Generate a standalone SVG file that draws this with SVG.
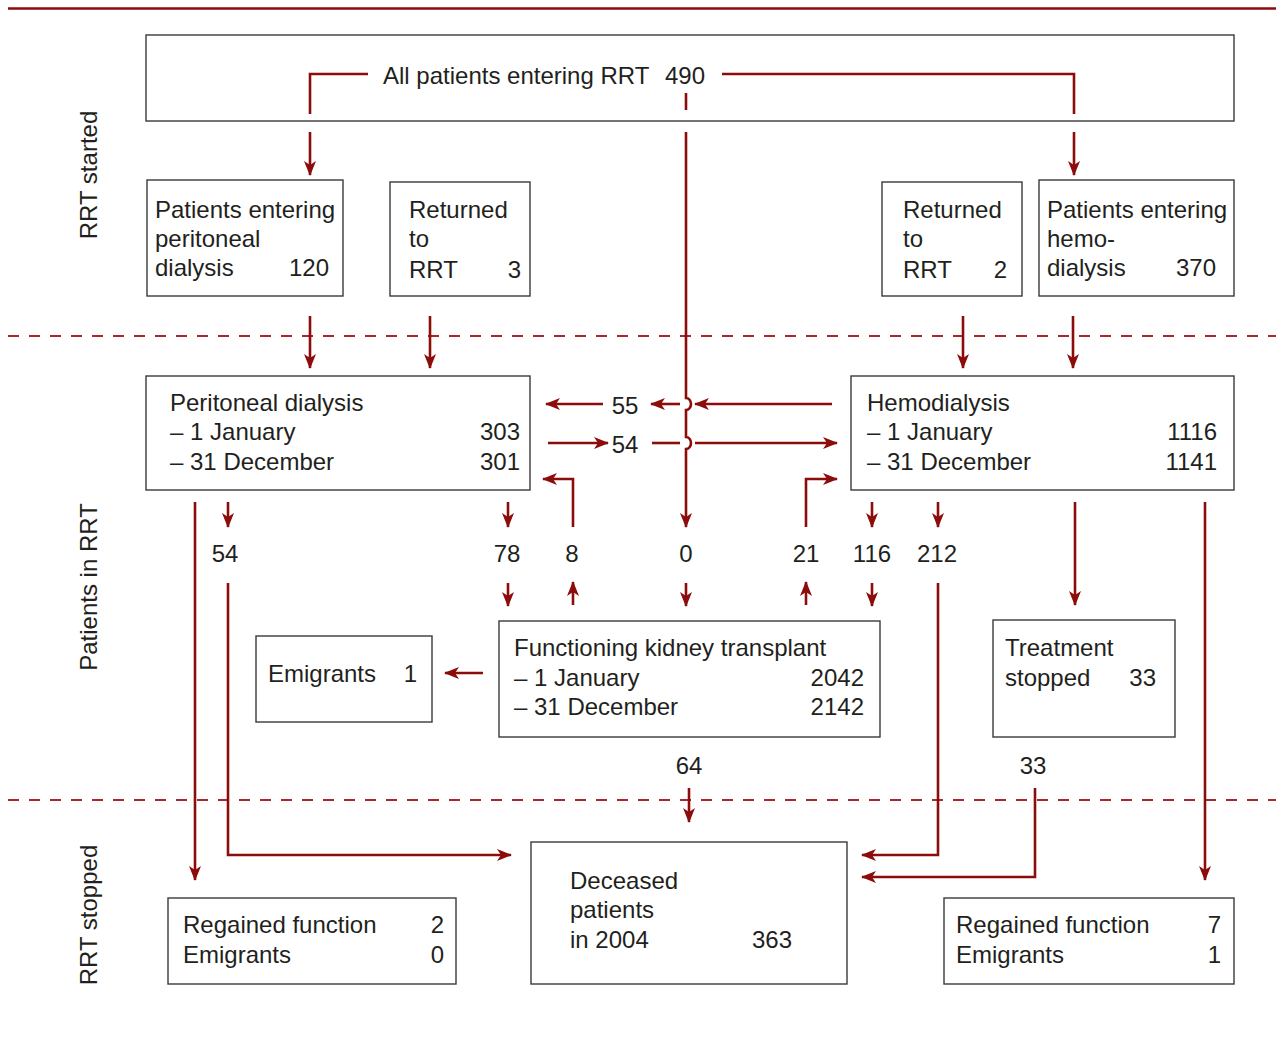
<svg xmlns="http://www.w3.org/2000/svg" width="1276" height="1037" viewBox="0 0 1276 1037">
<style>
text{font-family:"Liberation Sans",Arial,sans-serif;font-size:24px;fill:#231f20}
.e{text-anchor:end}.m{text-anchor:middle}
.box{fill:#fff;stroke:#3a3a3a;stroke-width:1.4}
.c{fill:none;stroke:#8c0b0b;stroke-width:2.6}
.a{marker-end:url(#ah)}
.d{fill:none;stroke:#a8282d;stroke-width:1.8;stroke-dasharray:11 10}
</style>
<defs>
<marker id="ah" markerUnits="userSpaceOnUse" markerWidth="15" markerHeight="12" viewBox="0 0 15 12" refX="14" refY="6" orient="auto">
<path d="M0,0 L15,6 L0,12 L4,6 z" fill="#8c0b0b"/>
</marker>
</defs>
<rect width="1276" height="1037" fill="#fff"/>
<line x1="8" y1="8.5" x2="1276" y2="8.5" stroke="#8c0b0b" stroke-width="2.5"/>
<line class="d" x1="8" y1="336" x2="1276" y2="336"/>
<line class="d" x1="8" y1="800" x2="1276" y2="800"/>

<g id="labels">
<text class="m" transform="translate(97,175) rotate(-90)">RRT started</text>
<text class="m" transform="translate(97,587) rotate(-90)">Patients in RRT</text>
<text class="m" transform="translate(97,915) rotate(-90)">RRT stopped</text>
</g>

<g id="all">
<rect class="box" x="146" y="35" width="1088" height="86"/>
<text x="383" y="84">All patients entering RRT</text>
<text class="e" x="705" y="84">490</text>
</g>
<g id="pd-enter">
<rect class="box" x="147" y="180" width="196" height="116"/>
<text x="155" y="218">Patients entering</text>
<text x="155" y="247">peritoneal</text>
<text x="155" y="276">dialysis</text>
<text class="e" x="329" y="276">120</text>
</g>
<g id="ret-pd">
<rect class="box" x="390" y="182" width="140" height="114"/>
<text x="409" y="218">Returned</text>
<text x="409" y="247">to</text>
<text x="409" y="278">RRT</text>
<text class="e" x="521" y="278">3</text>
</g>
<g id="ret-hd">
<rect class="box" x="882" y="182" width="140" height="114"/>
<text x="903" y="218">Returned</text>
<text x="903" y="247">to</text>
<text x="903" y="278">RRT</text>
<text class="e" x="1007" y="278">2</text>
</g>
<g id="hd-enter">
<rect class="box" x="1039" y="180" width="195" height="116"/>
<text x="1047" y="218">Patients entering</text>
<text x="1047" y="247">hemo-</text>
<text x="1047" y="276">dialysis</text>
<text class="e" x="1216" y="276">370</text>
</g>
<g id="pd">
<rect class="box" x="146" y="376" width="384" height="114"/>
<text x="170" y="411">Peritoneal dialysis</text>
<text x="170" y="440">– 1 January</text>
<text class="e" x="520" y="440">303</text>
<text x="170" y="470">– 31 December</text>
<text class="e" x="520" y="470">301</text>
</g>
<g id="hd">
<rect class="box" x="851" y="376" width="383" height="114"/>
<text x="867" y="411">Hemodialysis</text>
<text x="867" y="440">– 1 January</text>
<text class="e" x="1217" y="440">1116</text>
<text x="867" y="470">– 31 December</text>
<text class="e" x="1217" y="470">1141</text>
</g>
<g id="emig">
<rect class="box" x="256" y="636" width="176" height="86"/>
<text x="268" y="682">Emigrants</text>
<text class="e" x="417" y="682">1</text>
</g>
<g id="tx">
<rect class="box" x="499" y="621" width="381" height="116"/>
<text x="514" y="656">Functioning kidney transplant</text>
<text x="514" y="686">– 1 January</text>
<text class="e" x="864" y="686">2042</text>
<text x="514" y="715">– 31 December</text>
<text class="e" x="864" y="715">2142</text>
</g>
<g id="stop">
<rect class="box" x="993" y="620" width="182" height="117"/>
<text x="1005" y="656">Treatment</text>
<text x="1005" y="686">stopped</text>
<text class="e" x="1156" y="686">33</text>
</g>
<g id="dec">
<rect class="box" x="531" y="842" width="316" height="142"/>
<text x="570" y="889">Deceased</text>
<text x="570" y="918">patients</text>
<text x="570" y="948">in 2004</text>
<text class="e" x="792" y="948">363</text>
</g>
<g id="reg-l">
<rect class="box" x="168" y="898" width="288" height="86"/>
<text x="183" y="933">Regained function</text>
<text class="e" x="444" y="933">2</text>
<text x="183" y="963">Emigrants</text>
<text class="e" x="444" y="963">0</text>
</g>
<g id="reg-r">
<rect class="box" x="944" y="898" width="290" height="86"/>
<text x="956" y="933">Regained function</text>
<text class="e" x="1221" y="933">7</text>
<text x="956" y="963">Emigrants</text>
<text class="e" x="1221" y="963">1</text>
</g>

<g id="connectors">
<path class="c" d="M368,74 H310 V114"/>
<path class="c a" d="M310,132 V175"/>
<path class="c" d="M722,74 H1074 V114"/>
<path class="c a" d="M1074,132 V175"/>
<path class="c" d="M686,93 V110"/>
<path class="c a" d="M686,132 V398 A5,6 0 0 1 686,410 V437 A5,6 0 0 1 686,449 V527"/>
<path class="c a" d="M310,316 V368"/>
<path class="c a" d="M430,316 V368"/>
<path class="c a" d="M963,316 V368"/>
<path class="c a" d="M1073,316 V368"/>
<path class="c a" d="M832,404 H695"/>
<path class="c a" d="M680,404 H651"/>
<path class="c a" d="M603,404 H546"/>
<path class="c a" d="M548,443 H608"/>
<path class="c" d="M652,443 H680"/>
<path class="c a" d="M695,443 H837"/>
<path class="c a" d="M573,527 V479 H543"/>
<path class="c a" d="M806,527 V479 H837"/>
<path class="c a" d="M228,502 V527"/>
<path class="c a" d="M508,502 V527"/>
<path class="c a" d="M872,502 V527"/>
<path class="c a" d="M938,502 V527"/>
<path class="c a" d="M508,583 V606"/>
<path class="c a" d="M573,605 V582"/>
<path class="c a" d="M686,583 V606"/>
<path class="c a" d="M806,605 V582"/>
<path class="c a" d="M872,583 V606"/>
<path class="c a" d="M195,502 V880"/>
<path class="c a" d="M228,583 V855 H511"/>
<path class="c a" d="M938,583 V855 H862"/>
<path class="c a" d="M1075,502 V605"/>
<path class="c a" d="M1205,502 V880"/>
<path class="c a" d="M483,673 H445"/>
<path class="c a" d="M689,788 V822"/>
<path class="c a" d="M1035,788 V877 H862"/>
</g>
<g id="numbers">
<text class="m" x="625" y="414">55</text>
<text class="m" x="625" y="453">54</text>
<text class="m" x="225" y="562">54</text>
<text class="m" x="507" y="562">78</text>
<text class="m" x="572" y="562">8</text>
<text class="m" x="686" y="562">0</text>
<text class="m" x="806" y="562">21</text>
<text class="m" x="872" y="562">116</text>
<text class="m" x="937" y="562">212</text>
<text class="m" x="689" y="774">64</text>
<text class="m" x="1033" y="774">33</text>
</g>
</svg>
